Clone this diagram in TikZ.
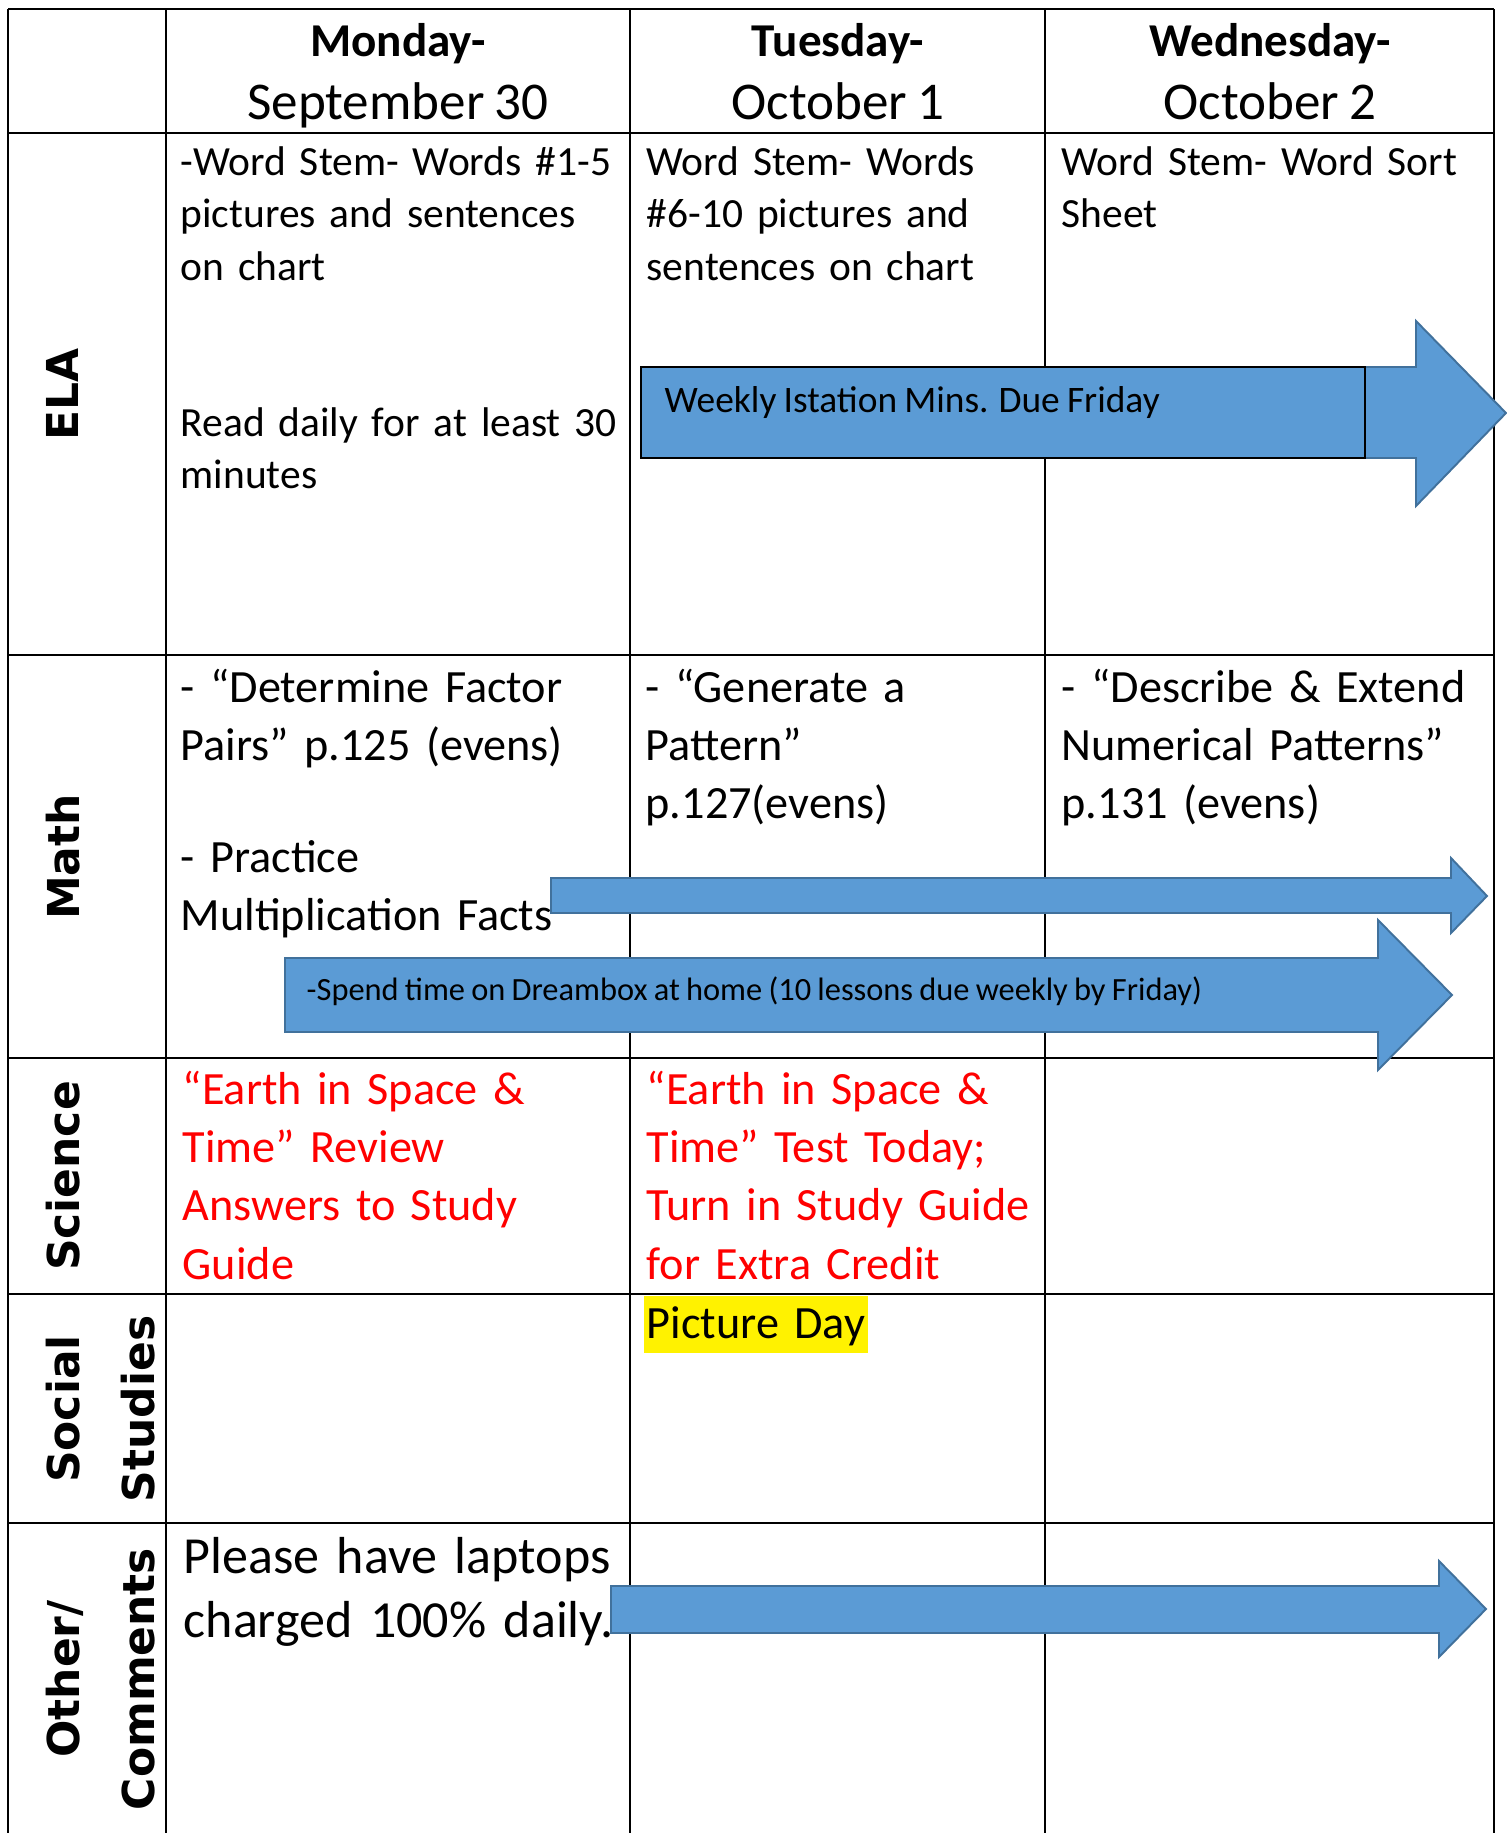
\documentclass[tikz,border=0pt]{standalone}
\usepackage{fontspec}
\setmainfont{Carlito}[WordSpace=0.85]
\newfontfamily\labelfont{DejaVu Sans}
\usepackage{tikz}
\usetikzlibrary{positioning}

\definecolor{arrowblue}{RGB}{91,155,213}
\definecolor{arrowedge}{RGB}{65,113,156}

\tikzset{
  grid line/.style={line width=0.6pt, black},
  cell/.style={anchor=base west, inner sep=0pt, text width=6cm, align=left},
  elatext/.style={cell, font=\fontsize{11.8}{14.94}\selectfont},
  mathtext/.style={cell, font=\fontsize{13.15}{16.6}\selectfont},
  sciencetext/.style={mathtext, text=red},
  othertext/.style={cell, font=\fontsize{14.8}{18.4}\selectfont},
  dayname/.style={anchor=base, inner sep=0pt, font=\fontsize{13.4}{16}\selectfont\bfseries},
  daydate/.style={anchor=base, inner sep=0pt, font=\fontsize{15.1}{18}\selectfont},
  subject/.style={anchor=base, inner sep=0pt, rotate=90, font=\labelfont\bfseries\fontsize{12.5}{15}\selectfont},
  bluearrow/.style={fill=arrowblue, draw=arrowedge, line width=0.55pt, line join=miter},
}

\begin{document}
\begin{tikzpicture}[x=0.01cm, y=-0.01cm]
  \useasboundingbox (0,0) rectangle (1507,1833);

  % table grid
  \foreach \x in {8,166,630,1045,1494}
    \draw[grid line] (\x,9) -- (\x,1833);
  \foreach \y in {9,133,655,1058,1294,1523}
    \draw[grid line] (8,\y) -- (1494,\y);

  % header
  \node[dayname] (mon) at (398,56) {Monday-};
  \node[daydate] (mondate) at (398,119) {September 30};
  \node[dayname] (tue) at (838,56) {Tuesday-};
  \node[daydate] (tuedate) at (838,119) {October 1};
  \node[dayname] (wed) at (1270,56) {Wednesday-};
  \node[daydate] (weddate) at (1270,119) {October 2};

  % subjects
  \node[subject] (ela) at (78,394) {ELA};
  \node[subject] (math) at (79,857) {Math};
  \node[subject] (science) at (79,1176) {Science};
  \node[subject] (social) at (80,1409) {Social};
  \node[subject] (studies) at (154,1409) {Studies};
  \node[subject] (other) at (80,1679) {Other/};
  \node[subject] (comments) at (154,1679) {Comments};

  % ELA
  \node[elatext] (elamon) at (180,175) {-Word Stem- Words \#1-5\\pictures and sentences\\on chart};
  \node[elatext] (elaread) at (180,436) {Read daily for at least 30\\minutes};
  \node[elatext] (elatue) at (646,175) {Word Stem- Words\\\#6-10 pictures and\\sentences on chart};
  \node[elatext] (elawed) at (1061,175) {Word Stem- Word Sort\\Sheet};

  % Math
  \node[mathtext] (mathmon) at (180,702) {- “Determine Factor\\Pairs” p.125 (evens)};
  \node[mathtext] (mathfacts) at (180,872) {- Practice\\Multiplication Facts};
  \node[mathtext] (mathtue) at (645,702) {- “Generate a\\Pattern”\\p.127(evens)};
  \node[mathtext] (mathwed) at (1061,702) {- “Describe \& Extend\\Numerical Patterns”\\p.131 (evens)};

  % Science
  \node[sciencetext] (scimon) at (182,1104) {“Earth in Space \&\\Time” Review\\Answers to Study\\Guide};
  \node[sciencetext] (scitue) at (646,1104) {“Earth in Space \&\\Time” Test Today;\\Turn in Study Guide\\for Extra Credit};

  % Social Studies
  \fill[yellow] (644,1296) rectangle (868,1353);
  \node[mathtext] (picday) at (646,1338) {Picture Day};

  % Other
  \node[othertext] (laptops) at (183,1573) {Please have laptops\\charged 100\% daily.};

  % arrows
  \draw[bluearrow] (641,367) -- (1416,367) -- (1416,321) -- (1506,413)
    -- (1416,506) -- (1416,458) -- (641,458) -- cycle;
  \draw[fill=arrowblue, draw=black, line width=0.45pt] (641,367) rectangle (1365,458);
  \node[anchor=base west, inner sep=0pt, font=\fontsize{10.64}{12}\selectfont] (istation) at (664,412)
    {Weekly Istation Mins. Due Friday};

  \draw[bluearrow] (551,878) -- (1451,878) -- (1451,858) -- (1487,896)
    -- (1451,933) -- (1451,913) -- (551,913) -- cycle;
  \draw[bluearrow] (285,958) -- (1378,958) -- (1378,920) -- (1452,995)
    -- (1378,1070) -- (1378,1032) -- (285,1032) -- cycle;
  \node[anchor=base west, inner sep=0pt, font=\fontsize{9.22}{11}\selectfont] (dreambox) at (306,1000)
    {-Spend time on Dreambox at home (10 lessons due weekly by Friday)};

  \draw[bluearrow] (611,1586) -- (1439,1586) -- (1439,1561) -- (1486,1609)
    -- (1439,1657) -- (1439,1633) -- (611,1633) -- cycle;
\end{tikzpicture}
\end{document}
